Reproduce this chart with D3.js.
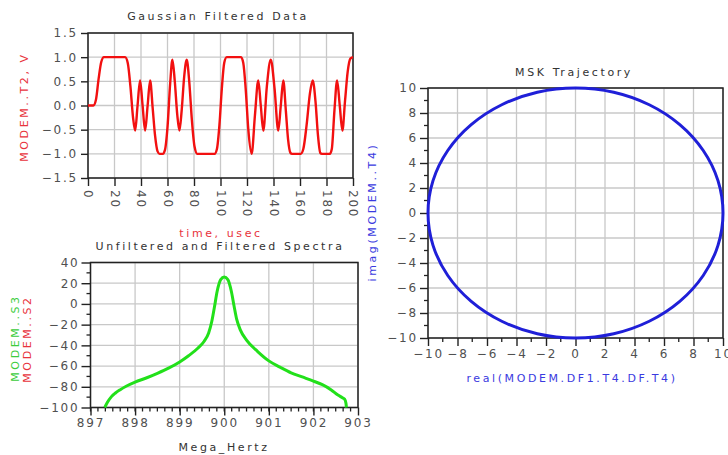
<!DOCTYPE html>
<html>
<head>
<meta charset="utf-8">
<title>MSK modem plots</title>
<script src="https://cdn.jsdelivr.net/npm/d3@7"></script>
<style>
  body { margin: 0; background: #fff; }
  text { font-family: "DejaVu Sans", sans-serif; }
  .tick text { font-size: 12px; letter-spacing: 1.8px; fill: #505050; }
  .tick line { stroke: #222; stroke-width: 1.4; }
  .domain { display: none; }
</style>
</head>
<body>
<script>
// ---- data ----
var timeTicks = [0, 20, 40, 60, 80, 100, 120, 140, 160, 180, 200];
var voltTicks = [-1.5, -1.0, -0.5, 0.0, 0.5, 1.0, 1.5];
var gaussT = [0, 4, 6, 8, 10, 12, 28, 30, 32, 34, 35.6, 37.4, 39.3, 41.2, 43.1, 45, 46.9, 48.8, 50.6, 52.5, 54, 56.5, 58, 60, 62, 63.7,
  65.5, 67.4, 69, 70.7, 72.6, 74.5, 76.4, 78.4, 80.4, 82.5, 95.5, 97.3, 99.2, 101, 102.8, 104.7, 115.5, 117.2, 119, 121, 123.5,
  126, 128.5, 130.4, 132.3, 135, 137.9, 140.8, 143.6, 145.5, 147.4, 149.3, 151, 152.8, 154, 160.5, 162.5, 165, 167.5, 169.6,
  171.8, 173.5, 175.3, 176.5, 182.5, 184, 186, 188, 190, 192, 194, 196, 198, 200];
var gaussV = [0, 0, 0.12, 0.55, 0.9, 1, 1, 0.88, 0.4, -0.25, -0.52, 0, 0.52, 0, -0.52, 0, 0.52, -0.05, -0.62, -0.95, -1, -1, -0.93, -0.45, 0.45, 0.95,
  0.5, -0.2, -0.52, -0.1, 0.6, 0.95, 0.5, -0.3, -0.85, -1, -1, -0.9, -0.4, 0.35, 0.88, 1, 1, 0.88, 0.35, -0.5, -1,
  -0.2, 0.52, 0, -0.52, 0.4, 0.95, 0.35, -0.52, 0, 0.52, -0.1, -0.7, -0.98, -1, -1, -0.9, -0.4, 0.25, 0.52,
  0.05, -0.6, -0.98, -1, -1, -0.9, -0.1, 0.52, 0, -0.52, 0.1, 0.7, 0.97, 1];

var freqTicks = [897, 898, 899, 900, 901, 902, 903];
var dbTicks = [-100, -80, -60, -40, -20, 0, 20, 40];
var freqMHz = [897.32, 897.38, 897.47, 897.56, 897.66, 897.8, 898, 898.25, 898.5, 898.75, 899, 899.2, 899.4, 899.55, 899.65,
  899.72, 899.78, 899.84, 899.92, 900, 900.08, 900.16, 900.22, 900.28, 900.36, 900.5, 900.75, 901, 901.25, 901.5, 901.75,
  902, 902.2, 902.4, 902.55, 902.65, 902.7, 902.73, 902.74];
var specDb = [-100, -95, -89.5, -86, -83, -79.5, -75.5, -71.5, -67, -62, -56, -50, -43, -36, -28,
  -17, -3, 12, 23.5, 26, 23.5, 12, -2, -15, -25, -35, -46, -55, -61, -66.5, -70.5,
  -74.5, -78, -83, -88, -90.5, -92, -96, -100];

var iqTicks = [-10, -8, -6, -4, -2, 0, 2, 4, 6, 8, 10];
var realT4 = [10, 9.66, 8.66, 7.07, 5, 2.59, 0, -2.59, -5, -7.07, -8.66, -9.66, -10, -9.66, -8.66, -7.07, -5, -2.59, 0, 2.59, 5, 7.07, 8.66, 9.66];
var imagT4 = [0, 2.59, 5, 7.07, 8.66, 9.66, 10, 9.66, 8.66, 7.07, 5, 2.59, 0, -2.59, -5, -7.07, -8.66, -9.66, -10, -9.66, -8.66, -7.07, -5, -2.59];

var svg = d3.select("body").append("svg")
  .attr("width", 728).attr("height", 455);
svg.append("rect").attr("width", 728).attr("height", 455).attr("fill", "#fff");

function label(x, y, txt, color, rot) {
  var t = svg.append("text")
    .attr("x", x).attr("y", y)
    .attr("text-anchor", "middle")
    .style("font-size", "11px")
    .style("letter-spacing", "2.6px")
    .attr("fill", color)
    .text(txt);
  if (rot) t.attr("transform", "rotate(-90," + x + "," + y + ")");
  return t;
}

function grid(x, y, xt, yt) {
  var g = svg.append("g");
  g.selectAll(".gx").data(xt).enter().append("line")
    .attr("x1", x).attr("x2", x).attr("y1", y.range()[0]).attr("y2", y.range()[1])
    .attr("stroke", "#c8c8c8").attr("stroke-width", 1.3);
  g.selectAll(".gy").data(yt).enter().append("line")
    .attr("y1", y).attr("y2", y).attr("x1", x.range()[0]).attr("x2", x.range()[1])
    .attr("stroke", "#c8c8c8").attr("stroke-width", 1.3);
}

function frame(x, y) {
  svg.append("rect")
    .attr("x", x.range()[0]).attr("y", y.range()[1])
    .attr("width", x.range()[1] - x.range()[0])
    .attr("height", y.range()[0] - y.range()[1])
    .attr("fill", "none").attr("stroke", "#222").attr("stroke-width", 1.5);
}

function minor(vals, x, y, side, len) {
  svg.append("g").selectAll("line").data(vals).enter().append("line")
    .attr("stroke", "#222").attr("stroke-width", 1.3)
    .each(function(d) {
      var s = d3.select(this);
      if (side == "bottom") s.attr("x1", x(d)).attr("x2", x(d)).attr("y1", y.range()[0]).attr("y2", y.range()[0] + len);
      else s.attr("y1", y(d)).attr("y2", y(d)).attr("x1", x.range()[0]).attr("x2", x.range()[0] - len);
    });
}

// ---- Gaussian Filtered Data ----
var x1 = d3.scaleLinear().domain([0, 200]).range([88, 353]);
var y1 = d3.scaleLinear().domain([-1.5, 1.5]).range([178, 33]);
grid(x1, y1, timeTicks, voltTicks);
svg.append("g").attr("transform", "translate(0,178)")
  .call(d3.axisBottom(x1).tickValues(timeTicks).tickSize(8).tickFormat(d3.format("d")))
  .selectAll("text")
  .attr("transform", "rotate(90)").attr("x", 12).attr("y", 0).attr("dy", "0.35em")
  .style("text-anchor", "start");
svg.append("g").attr("transform", "translate(88,0)")
  .call(d3.axisLeft(y1).tickValues(voltTicks).tickSize(7).tickPadding(3).tickFormat(d3.format(".1f")));
frame(x1, y1);
svg.append("path")
  .datum(d3.range(gaussT.length))
  .attr("fill", "none").attr("stroke", "#f21010").attr("stroke-width", 2.4)
  .attr("d", d3.line().curve(d3.curveMonotoneX)
    .x(function(i) { return x1(gaussT[i]); })
    .y(function(i) { return y1(gaussV[i]); }));
label(218, 20, "Gaussian Filtered Data", "#333");
label(28, 107, "MODEM..T2, V", "#e8333c", true);
label(221, 237, "time, usec", "#e8333c");

// ---- Unfiltered and Filtered Spectra ----
var x2 = d3.scaleLinear().domain([897, 903]).range([90.5, 358]);
var y2 = d3.scaleLinear().domain([-100, 40]).range([407.5, 262.5]);
grid(x2, y2, freqTicks, dbTicks);
minor(d3.range(897, 903, 1 / 6), x2, y2, "bottom", 4);
minor(d3.range(-90, 40, 20), x2, y2, "left", 4);
svg.append("g").attr("transform", "translate(0,407.5)")
  .call(d3.axisBottom(x2).tickValues(freqTicks).tickSize(8).tickPadding(3).tickFormat(d3.format("d")));
svg.append("g").attr("transform", "translate(90.5,0)")
  .call(d3.axisLeft(y2).tickValues(dbTicks).tickSize(9).tickPadding(2).tickFormat(d3.format("d")));
frame(x2, y2);
svg.append("path")
  .datum(d3.range(freqMHz.length))
  .attr("fill", "none").attr("stroke", "#22e01a").attr("stroke-width", 3)
  .attr("stroke-linejoin", "round")
  .attr("d", d3.line().curve(d3.curveMonotoneX)
    .x(function(i) { return x2(freqMHz[i]); })
    .y(function(i) { return y2(specDb[i]); }));
label(220, 250, "Unfiltered and Filtered Spectra", "#333");
label(19, 338, "MODEM..S3", "#3ccc3c", true);
label(31, 339, "MODEM..S2", "#e8333c", true);
label(224, 451, "Mega_Hertz", "#333");

// ---- MSK Trajectory ----
var x3 = d3.scaleLinear().domain([-10, 10]).range([428, 723]);
var y3 = d3.scaleLinear().domain([-10, 10]).range([338, 88]);
grid(x3, y3, iqTicks, iqTicks);
minor(d3.range(-9, 10, 2), x3, y3, "bottom", 4);
minor(d3.range(-9, 10, 2), x3, y3, "left", 4);
svg.append("g").attr("transform", "translate(0,338)")
  .call(d3.axisBottom(x3).tickValues(iqTicks).tickSize(8).tickPadding(3).tickFormat(d3.format("d")));
svg.append("g").attr("transform", "translate(428,0)")
  .call(d3.axisLeft(y3).tickValues(iqTicks).tickSize(8).tickPadding(2).tickFormat(d3.format("d")));
frame(x3, y3);
svg.append("path")
  .datum(d3.range(realT4.length))
  .attr("fill", "none").attr("stroke", "#1f1fd8").attr("stroke-width", 3)
  .attr("d", d3.line().curve(d3.curveCardinalClosed)
    .x(function(i) { return x3(realT4[i]); })
    .y(function(i) { return y3(imagT4[i]); }));
label(574, 76, "MSK Trajectory", "#333");
label(376, 212, "imag(MODEM..T4)", "#3a3ae0", true);
label(572, 382, "real(MODEM.DF1.T4.DF.T4)", "#3a3ae0");
</script>
</body>
</html>
